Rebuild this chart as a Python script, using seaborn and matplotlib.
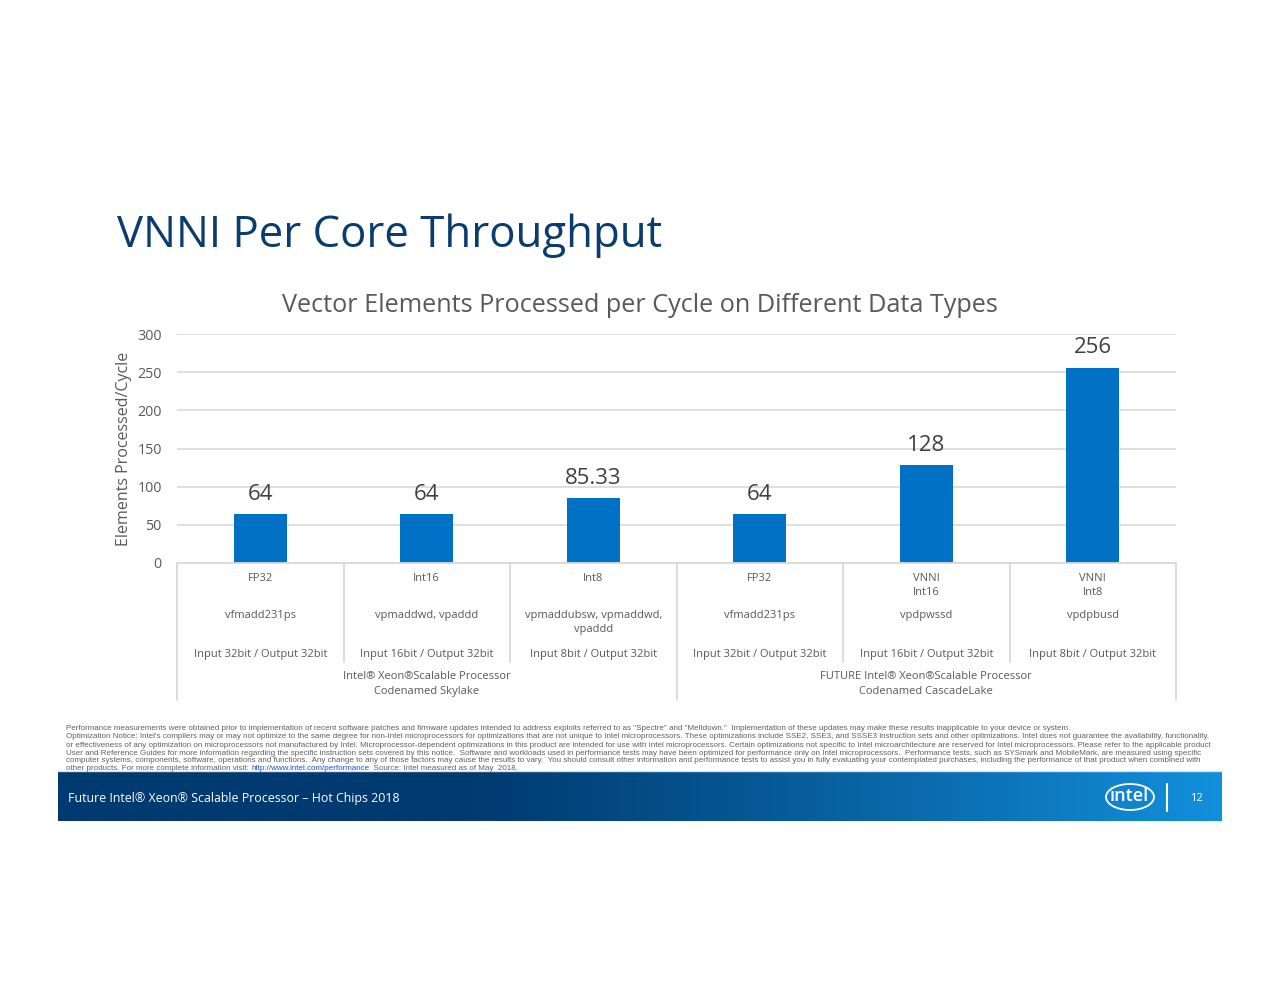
import matplotlib
matplotlib.use("Agg")
import matplotlib.pyplot as plt
import matplotlib.transforms as mtransforms
from matplotlib.patches import Ellipse
import numpy as np
import pandas as pd
import seaborn as sns

# ---------------- data ----------------
categories = ["FP32", "Int16", "Int8", "FP32 ", "VNNI\nInt16", "VNNI\nInt8"]
values = [64, 64, 85.33, 64, 128, 256]
value_labels = ["64", "64", "85.33", "64", "128", "256"]
instructions = ["vfmadd231ps", "vpmaddwd, vpaddd", "vpmaddubsw, vpmaddwd,\nvpaddd",
                "vfmadd231ps", "vpdpwssd", "vpdpbusd"]
io_labels = ["Input 32bit / Output 32bit", "Input 16bit / Output 32bit",
             "Input 8bit / Output 32bit", "Input 32bit / Output 32bit",
             "Input 16bit / Output 32bit", "Input 8bit / Output 32bit"]
groups = ["Intel\u00ae Xeon\u00aeScalable Processor\nCodenamed Skylake",
          "FUTURE Intel\u00ae Xeon\u00aeScalable Processor\nCodenamed CascadeLake"]
group_spans = [(0, 2), (3, 5)]
yticks = [0, 50, 100, 150, 200, 250, 300]

footnote_lines = [
    "Performance measurements were obtained prior to implementation of recent software patches and firmware updates intended to address exploits referred to as \"Spectre\" and \"Meltdown.\"  Implementation of these updates may make these results inapplicable to your device or system.",
    "Optimization Notice: Intel's compilers may or may not optimize to the same degree for non-Intel microprocessors for optimizations that are not unique to Intel microprocessors. These optimizations include SSE2, SSE3, and SSSE3 instruction sets and other optimizations. Intel does not guarantee the availability, functionality,",
    "or effectiveness of any optimization on microprocessors not manufactured by Intel. Microprocessor-dependent optimizations in this product are intended for use with Intel microprocessors. Certain optimizations not specific to Intel microarchitecture are reserved for Intel microprocessors. Please refer to the applicable product",
    "User and Reference Guides for more information regarding the specific instruction sets covered by this notice.  Software and workloads used in performance tests may have been optimized for performance only on Intel microprocessors.  Performance tests, such as SYSmark and MobileMark, are measured using specific",
    "computer systems, components, software, operations and functions.  Any change to any of those factors may cause the results to vary.  You should consult other information and performance tests to assist you in fully evaluating your contemplated purchases, including the performance of that product when combined with",
]
footnote_last = ["other products. For more complete information visit: ",
                 "http://www.intel.com/performance",
                 "  Source: Intel measured as of May  2018."]

# ---------------- style ----------------
sns.set_theme(style="white")
plt.rcParams["font.family"] = ["Open Sans", "DejaVu Sans"]

BLUE = "#0071c5"
NAVY = "#0b3c6f"
GRAY = "#595959"
GRID = "#d9d9d9"

W, H = 1280, 988
fig = plt.figure(figsize=(W / 100, H / 100), dpi=100)
fig.patch.set_facecolor("white")

def fx(px):
    return px / W

def fy(py):
    return 1 - py / H

ax = fig.add_axes([fx(177), fy(563), fx(1176) - fx(177), fy(334) - fy(563)])

df = pd.DataFrame({"cat": categories, "val": values})
sns.barplot(data=df, x="cat", y="val", color=BLUE, width=0.32, ax=ax,
            saturation=1, edgecolor="none")

ax.set_ylim(0, 300)
ax.set_xlim(-0.5, len(categories) - 0.5)
ax.set_yticks(yticks)
ax.set_yticklabels([str(t) for t in yticks], color=GRAY, fontsize=10.3)
ax.tick_params(axis="y", length=0, pad=11)
ax.set_xticks([])
ax.set_xlabel("")
ax.set_ylabel("Elements Processed/Cycle", color=GRAY, fontsize=11.5, labelpad=4)
ax.yaxis.grid(True, color=GRID, linewidth=1.2)
ax.set_axisbelow(True)
for s in ax.spines.values():
    s.set_visible(False)

for i, (v, lab) in enumerate(zip(values, value_labels)):
    ax.text(i, v + 12, lab, ha="center", va="bottom", fontsize=16, color="#404040")

# ---- category table under the axis ----
trans = mtransforms.blended_transform_factory(ax.transData, ax.transAxes)
axh = fy(334) - fy(563)

def ay(py):
    return (fy(py) - fy(563)) / axh

ax.plot([-0.5, 5.5], [0, 0], transform=trans, color=GRID, lw=1.3, clip_on=False)
for b in [0.5, 1.5, 3.5, 4.5]:
    ax.plot([b, b], [0, ay(662)], transform=trans, color=GRID, lw=1.3, clip_on=False)
for b in [-0.5, 2.5, 5.5]:
    ax.plot([b, b], [0, ay(700)], transform=trans, color=GRID, lw=1.3, clip_on=False)

for i, c in enumerate(categories):
    ax.text(i, ay(573), c.strip(), transform=trans, ha="center", va="top",
            fontsize=8, color=GRAY, linespacing=1.35)
    ax.text(i, ay(610), instructions[i], transform=trans, ha="center", va="top",
            fontsize=8, color=GRAY, linespacing=1.35)
    ax.text(i, ay(654), io_labels[i], transform=trans, ha="center", va="center",
            fontsize=8, color=GRAY)
for g, (a, b) in zip(groups, group_spans):
    ax.text((a + b) / 2, ay(671), g, transform=trans, ha="center", va="top",
            fontsize=8, color=GRAY, linespacing=1.45)

# ---- titles ----
fig.text(fx(117), fy(236), "VNNI Per Core Throughput", fontsize=31.5, color=NAVY,
         ha="left", va="center")
fig.text(fx(640), fy(305), "Vector Elements Processed per Cycle on Different Data Types",
         fontsize=18.2, color=GRAY, ha="center", va="center")

# ---- footnote ----
FN = dict(fontsize=5.8, color="#606060", family=["Liberation Sans", "DejaVu Sans"])
ys = [728, 736.5, 745, 753, 761, 768]
for line, y in zip(footnote_lines, ys):
    fig.text(fx(66), fy(y), line, ha="left", va="center", **FN)

fig.canvas.draw()
renderer = fig.canvas.get_renderer()
t1 = fig.text(fx(66), fy(ys[5]), footnote_last[0], ha="left", va="center", **FN)
bb = t1.get_window_extent(renderer)
fn_url = dict(FN)
fn_url["color"] = "#1f4fd0"
t2 = fig.text(bb.x1 / W, fy(ys[5]), footnote_last[1], ha="left", va="center", **fn_url)
bb2 = t2.get_window_extent(renderer)
fig.add_artist(plt.Line2D([bb2.x0 / W, bb2.x1 / W], [fy(ys[5] + 3.4)] * 2,
                          color="#1f4fd0", lw=0.5, transform=fig.transFigure))
fig.text(bb2.x1 / W, fy(ys[5]), footnote_last[2], ha="left", va="center", **FN)

# ---- footer bar with gradient ----
fax = fig.add_axes([fx(58), fy(821), fx(1222) - fx(58), fy(772) - fy(821)])
grad = np.linspace(0, 1, 512)
c0 = np.array([0x00, 0x3a, 0x70]) / 255
c1 = np.array([0x12, 0x90, 0xdc]) / 255
tt = np.clip((grad - 0.35) / 0.65, 0, 1) ** 1.1
cols = c0[None, :] * (1 - tt[:, None]) + c1[None, :] * tt[:, None]
fax.imshow(cols[None, :, :], aspect="auto", extent=[0, 1, 0, 1])
fax.set_xlim(0, 1)
fax.set_ylim(0, 1)
fax.axis("off")
fig.add_artist(plt.Line2D([fx(58), fx(1222)], [fy(771)] * 2, color="#cfe3f3", lw=1,
                          transform=fig.transFigure))

fig.text(fx(68), fy(798), "Future Intel\u00ae Xeon\u00ae Scalable Processor \u2013 Hot Chips 2018",
         fontsize=8.9, color="white", ha="left", va="center")
fig.text(fx(1129), fy(796), "intel", fontsize=13, color="white", ha="center", va="center",
         fontweight="semibold")
fig.add_artist(Ellipse((fx(1130), fy(797)), fx(48), 26 / H, angle=0, fill=False,
                       edgecolor="white", lw=1.3, transform=fig.transFigure))
fig.add_artist(plt.Line2D([fx(1167), fx(1167)], [fy(784), fy(811)], color="white", lw=1.5,
                          transform=fig.transFigure))
fig.text(fx(1196), fy(798), "12", fontsize=8, color="white", ha="center", va="center")

fig.savefig("out.png", dpi=100, facecolor="white")
